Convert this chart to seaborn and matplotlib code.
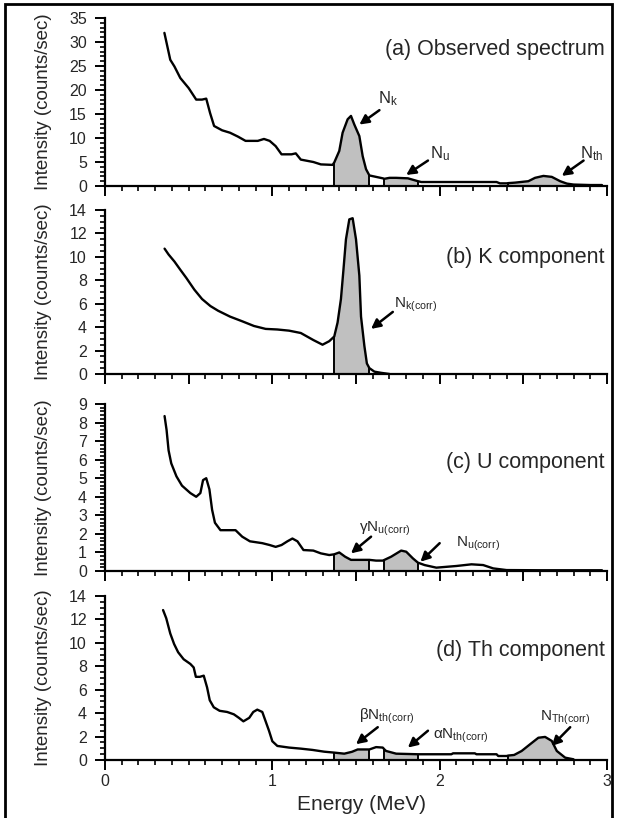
import matplotlib
matplotlib.use("Agg")
import numpy as np
import matplotlib.pyplot as plt
from matplotlib.ticker import MultipleLocator
from matplotlib.patches import Rectangle
import seaborn as sns

# ---- spectra: energy (MeV) and intensity (counts/sec) ----
obs_energy = [0.355, 0.39, 0.415, 0.45, 0.50, 0.545, 0.58, 0.605, 0.628, 0.652, 0.70, 0.747,
              0.794, 0.84, 0.913, 0.95, 0.984, 1.02, 1.055, 1.115, 1.14, 1.17, 1.245, 1.29, 1.36,
              1.37, 1.40, 1.42, 1.45, 1.47, 1.49, 1.52, 1.54, 1.56, 1.58,
              1.62, 1.66,
              1.67, 1.70, 1.74, 1.81, 1.87,
              1.89, 2.0, 2.1, 2.2, 2.34, 2.36, 2.40,
              2.41, 2.45, 2.53, 2.57, 2.62, 2.67, 2.72, 2.76, 2.80,
              2.85, 2.9, 2.97]
obs_counts = [31.9, 26.3, 24.9, 22.5, 20.4, 18.0, 18.0, 18.2, 15.2, 12.5, 11.6, 11.1,
              10.3, 9.4, 9.4, 9.8, 9.4, 8.3, 6.6, 6.6, 6.8, 5.5, 5.0, 4.5, 4.4,
              4.9, 7.3, 11.1, 13.9, 14.6, 12.8, 10.4, 6.2, 3.5, 2.2,
              1.9, 1.6,
              1.5, 1.7, 1.7, 1.6, 1.0,
              0.83, 0.83, 0.83, 0.83, 0.83, 0.55, 0.55,
              0.6, 0.7, 1.0, 1.7, 2.1, 1.9, 1.0, 0.5, 0.3,
              0.25, 0.2, 0.2]

k_energy = [0.356, 0.38, 0.415, 0.45, 0.486, 0.534, 0.58, 0.63, 0.676, 0.747, 0.82, 0.89,
            0.96, 1.03, 1.10, 1.17, 1.245, 1.30, 1.34,
            1.37, 1.39, 1.41, 1.425, 1.44, 1.46, 1.48, 1.50, 1.52, 1.53, 1.55, 1.565, 1.58,
            1.61, 1.65, 1.70]
k_counts = [10.7, 10.2, 9.6, 8.9, 8.2, 7.2, 6.4, 5.8, 5.4, 4.9, 4.5, 4.1,
            3.85, 3.8, 3.7, 3.5, 2.9, 2.5, 2.8,
            3.2, 4.4, 6.4, 8.9, 11.5, 13.2, 13.3, 11.5, 8.4, 4.9, 2.4, 0.9, 0.5,
            0.2, 0.1, 0.0]

u_energy = [0.356, 0.368, 0.38, 0.396, 0.427, 0.46, 0.51, 0.545, 0.57, 0.586, 0.605, 0.624,
            0.64, 0.657, 0.69, 0.747, 0.78, 0.82, 0.866, 0.94, 0.984, 1.02, 1.055, 1.09,
            1.12, 1.15, 1.186, 1.245, 1.29, 1.34,
            1.37, 1.40, 1.435, 1.47, 1.55, 1.58,
            1.62, 1.66,
            1.67, 1.71, 1.77, 1.80, 1.84, 1.87,
            1.91, 1.98, 2.10, 2.19, 2.26, 2.32, 2.40, 2.6, 2.8, 2.97]
u_counts = [8.35, 7.6, 6.5, 5.8, 5.1, 4.6, 4.2, 4.0, 4.2, 4.9, 5.0, 4.4,
            3.3, 2.6, 2.2, 2.2, 2.2, 1.85, 1.6, 1.5, 1.4, 1.3, 1.4, 1.6,
            1.75, 1.6, 1.13, 1.1, 0.95, 0.86,
            0.9, 1.0, 0.77, 0.6, 0.6, 0.6,
            0.56, 0.56,
            0.6, 0.77, 1.1, 1.04, 0.68, 0.45,
            0.32, 0.18, 0.27, 0.36, 0.32, 0.14, 0.05, 0.04, 0.04, 0.04]

th_energy = [0.347, 0.366, 0.39, 0.413, 0.437, 0.47, 0.51, 0.53, 0.543, 0.567, 0.59, 0.61,
             0.626, 0.65, 0.685, 0.73, 0.77, 0.80, 0.827, 0.862, 0.886, 0.91, 0.94, 0.96,
             0.98, 1.0, 1.03, 1.10, 1.17, 1.24, 1.31,
             1.37, 1.43, 1.476, 1.51, 1.58,
             1.62, 1.66,
             1.67, 1.68, 1.74, 1.87,
             1.95, 2.07, 2.08, 2.21, 2.22, 2.34, 2.35, 2.40,
             2.41, 2.445, 2.49, 2.54, 2.59, 2.63, 2.67, 2.70, 2.75, 2.80]
th_counts = [12.8, 12.1, 10.8, 9.9, 9.2, 8.6, 8.2, 7.9, 7.1, 7.1, 7.2, 6.2,
             5.1, 4.5, 4.2, 4.1, 3.9, 3.6, 3.3, 3.6, 4.1, 4.3, 4.1, 3.3,
             2.5, 1.6, 1.2, 1.06, 0.97, 0.86, 0.71,
             0.63, 0.54, 0.7, 0.9, 0.9,
             1.1, 1.06,
             0.9, 0.77, 0.54, 0.49,
             0.49, 0.49, 0.57, 0.57, 0.49, 0.49, 0.34, 0.34,
             0.38, 0.43, 0.77, 1.34, 1.9, 1.97, 1.63, 0.77, 0.2, 0.06]

# energy windows (MeV)
K_WIN = (1.37, 1.58)
U_WIN = (1.67, 1.87)
TH_WIN = (2.41, 2.80)

panel_titles = ["(a) Observed spectrum", "(b) K component", "(c) U component", "(d) Th component"]
y_limits = [35, 14, 9, 14]
y_major = [5, 2, 1, 2]
y_minor = [1, 0.5, 0.2, 0.5]
x_major = [1.0, 0.5, 0.5, 1.0]
title_y = [0.81, 0.71, 0.65, 0.67]

sns.set_style("ticks")
plt.rcParams["font.family"] = ["Liberation Sans", "DejaVu Sans"]
plt.rcParams["mathtext.fontset"] = "custom"
plt.rcParams["mathtext.rm"] = "Liberation Sans"
plt.rcParams["mathtext.it"] = "Liberation Sans"
plt.rcParams["mathtext.default"] = "regular"

W, H = 617, 818
fig = plt.figure(figsize=(W / 100, H / 100), dpi=100)

# axes boxes in pixel coordinates: (top, bottom)
boxes = [(18, 186), (210, 374), (404, 571), (596, 760)]
left_px, right_px = 105, 607

spectra = [(obs_energy, obs_counts, [K_WIN, U_WIN, TH_WIN]),
           (k_energy, k_counts, [K_WIN]),
           (u_energy, u_counts, [K_WIN, U_WIN]),
           (th_energy, th_counts, [K_WIN, U_WIN, TH_WIN])]

axes = []
for i, (top, bot) in enumerate(boxes):
    ax = fig.add_axes([left_px / W, 1 - bot / H, (right_px - left_px) / W, (bot - top) / H])
    axes.append(ax)
    e = np.asarray(spectra[i][0])
    c = np.asarray(spectra[i][1])
    for lo, hi in spectra[i][2]:
        mask = (e >= lo - 1e-9) & (e <= hi + 1e-9)
        ax.fill_between(e, 0, c, where=mask, color="#c0c0c0", lw=0, zorder=1)
        for edge in (lo, hi):
            j = int(np.argmin(np.abs(e - edge)))
            ax.vlines(e[j], 0, c[j], color="black", lw=1.4, zorder=2)
    sns.lineplot(x=e, y=c, ax=ax, color="black", lw=1.7, estimator=None, sort=False, zorder=3)

    ax.set_xlim(0, 3)
    ax.set_ylim(0, y_limits[i])
    ax.xaxis.set_major_locator(MultipleLocator(x_major[i]))
    ax.xaxis.set_minor_locator(MultipleLocator(0.1))
    ax.yaxis.set_major_locator(MultipleLocator(y_major[i]))
    ax.yaxis.set_minor_locator(MultipleLocator(y_minor[i]))
    for s in ("top", "right"):
        ax.spines[s].set_visible(False)
    for s in ("left", "bottom"):
        ax.spines[s].set_linewidth(1.6)
        ax.spines[s].set_color("black")
    ax.tick_params(which="major", direction="out", length=7, width=1.4, color="black",
                   labelsize=11.5)
    ax.tick_params(axis="y", which="major", pad=6)
    ax.tick_params(axis="x", which="major", pad=3)
    ax.tick_params(which="minor", direction="out", length=3.8, width=1.2, color="black")
    if i < 3:
        ax.tick_params(axis="x", which="both", labelbottom=False)
    ax.set_ylabel("Intensity (counts/sec)", fontsize=13.5)
    ax.yaxis.set_label_coords(-0.105, 0.5)
    ax.set_xlabel("")
    ax.text(0.995, title_y[i], panel_titles[i], transform=ax.transAxes,
            ha="right", va="center", fontsize=15.5)
    ax.patch.set_alpha(0)

axes[3].set_xlabel("Energy (MeV)", fontsize=15)
axes[3].xaxis.set_label_coords(0.51, -0.215)

arrow_kw = dict(arrowstyle="-|>,head_length=0.55,head_width=0.28", color="black", lw=1.8,
                shrinkA=0, shrinkB=0)


def mark(ax, label, tip, tail, text_xy, size=12):
    ax.annotate("", xy=tip, xytext=tail, arrowprops=arrow_kw)
    ax.text(text_xy[0], text_xy[1], label, ha="left", va="center", fontsize=size)


mark(axes[0], r"N$_{k}$", (1.52, 12.8), (1.64, 15.8), (1.63, 18.2))
mark(axes[0], r"N$_{u}$", (1.80, 2.3), (1.93, 5.3), (1.94, 6.8))
mark(axes[0], r"N$_{th}$", (2.73, 2.1), (2.86, 5.3), (2.84, 6.8))

mark(axes[1], r"N$_{k(corr)}$", (1.59, 3.85), (1.72, 5.3), (1.73, 5.9), size=11)

mark(axes[2], r"γN$_{u(corr)}$", (1.47, 0.95), (1.59, 1.85), (1.52, 2.25), size=11)
mark(axes[2], r"N$_{u(corr)}$", (1.885, 0.5), (2.0, 1.5), (2.10, 1.45), size=11)

mark(axes[3], r"βN$_{th(corr)}$", (1.50, 1.35), (1.63, 2.8), (1.52, 3.7), size=11)
mark(axes[3], r"αN$_{th(corr)}$", (1.81, 1.06), (1.93, 2.5), (1.96, 2.1), size=11)
mark(axes[3], r"N$_{Th(corr)}$", (2.67, 1.2), (2.78, 2.8), (2.60, 3.6), size=11)

# frame around the whole figure
fig.patches.append(Rectangle((5 / W, -0.01), (612 - 5) / W, 1.01 - 4 / H,
                             transform=fig.transFigure, fill=False, edgecolor="black",
                             lw=2.0))

fig.savefig("out.png", dpi=100)
